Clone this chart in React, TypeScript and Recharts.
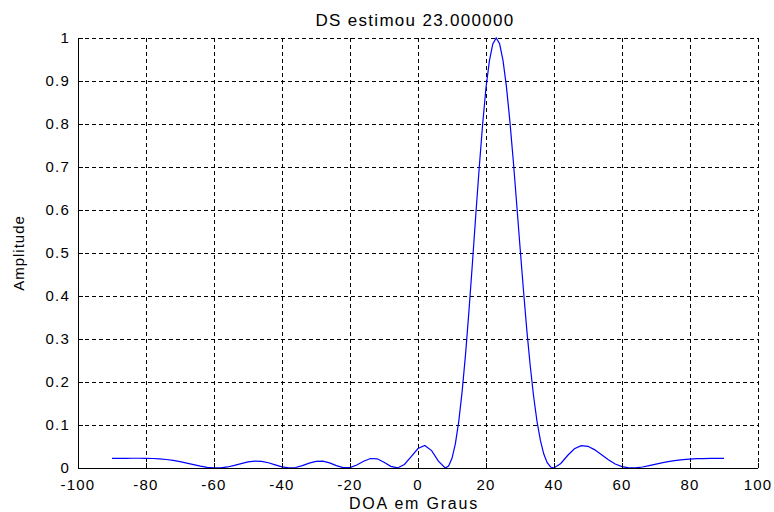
import React from 'react';
import { LineChart, Line, XAxis, YAxis, CartesianGrid } from 'recharts';

// DOA (degrees) sampled coarser on the side lobes, 1 degree across the main lobe
const DOA = [
    -90, -88, -86, -84, -82, -80, -78, -76, -74, -72, -70, -68, -66, -64, -62, -60,
    -58, -56, -54, -52, -50, -48, -46, -44, -42, -40, -38, -36, -34, -32, -30, -28,
    -26, -24, -22, -20, -18, -16, -14, -12, -10, -8, -6, -4, -2, 0, 2, 4, 6,
    8, 9, 10, 11, 12, 13, 14, 15, 16, 17, 18, 19, 20, 21, 22, 23, 24, 25, 26, 27,
    28, 29, 30, 31, 32, 33, 34, 35, 36, 37, 38, 39, 40,
    42, 44, 46, 48, 50, 52, 54, 56, 58, 60, 62, 64, 66, 68, 70, 72, 74, 76, 78,
    80, 82, 84, 86, 88, 90,
];

const AMPLITUDE = [
    0.0225, 0.0225, 0.0226, 0.0227, 0.0227, 0.0226, 0.0221, 0.0213, 0.0198, 0.0177, 0.0149, 0.0115, 0.0079, 0.0044, 0.0016, 0.0001,
    0.0004, 0.0024, 0.006, 0.0103, 0.0141, 0.0161, 0.0155, 0.0123, 0.0074, 0.0026, 0.0001, 0.0011, 0.0055, 0.0112, 0.0155, 0.0158,
    0.0118, 0.0054, 0.0007, 0.0009, 0.0069, 0.0157, 0.0221, 0.0214, 0.0136, 0.0039, 0.0001, 0.0081, 0.0263, 0.0453, 0.0524, 0.0405, 0.016,
    0.0, 0.0046, 0.0225, 0.0568, 0.1089, 0.1793, 0.2661, 0.3665, 0.4757, 0.5888, 0.6978, 0.7982, 0.8845, 0.9466, 0.9863, 1.0, 0.9865, 0.948, 0.8874, 0.8085,
    0.7168, 0.617, 0.5146, 0.4151, 0.3213, 0.2383, 0.1669, 0.1084, 0.064, 0.0325, 0.0125, 0.0024, 0.0001,
    0.0106, 0.0291, 0.0447, 0.0521, 0.0505, 0.0422, 0.0307, 0.019, 0.0094, 0.0032, 0.0003, 0.0003, 0.0023, 0.0055, 0.009, 0.0124, 0.0154, 0.0177, 0.0195,
    0.0207, 0.0216, 0.022, 0.0223, 0.0225, 0.0225,
];

const X_TICKS = [-100, -80, -60, -40, -20, 0, 20, 40, 60, 80, 100];
const Y_TICKS = [0, 0.1, 0.2, 0.3, 0.4, 0.5, 0.6, 0.7, 0.8, 0.9, 1];

const TITLE = 'DS estimou 23.000000';
const X_LABEL = 'DOA em Graus';
const Y_LABEL = 'Amplitude';

const data = DOA.map((deg, i) => ({ deg, amp: AMPLITUDE[i] }));

const FONT = "Arial, 'Liberation Sans', sans-serif";
const tickStyle = { fontSize: 15, fill: '#000', fontFamily: FONT, letterSpacing: 1.2 };

export default function App() {
    return (
        <div style={{ position: 'absolute', left: 0, top: 0, width: 774, height: 512, background: '#fff' }}>
            <LineChart width={774} height={512} data={data} margin={{ top: 38, right: 16, bottom: 14, left: 18 }}>
                <CartesianGrid stroke="#000" strokeDasharray="4 3" horizontal vertical shapeRendering="crispEdges" />
                <XAxis
                    dataKey="deg"
                    type="number"
                    domain={[-100, 100]}
                    ticks={X_TICKS}
                    height={30}
                    tickSize={-5}
                    tickMargin={16}
                    tick={tickStyle}
                    stroke="#000"
                    shapeRendering="crispEdges"
                    allowDataOverflow
                />
                <XAxis xAxisId="top" orientation="top" dataKey="deg" type="number" domain={[-100, 100]} ticks={X_TICKS}
                    height={0} tickSize={-5} tick={false} stroke="#000" shapeRendering="crispEdges" />
                <YAxis
                    domain={[0, 1]}
                    ticks={Y_TICKS}
                    width={60}
                    tickSize={-5}
                    tickMargin={13}
                    tick={tickStyle}
                    stroke="#000"
                    shapeRendering="crispEdges"
                />
                <YAxis yAxisId="right" orientation="right" domain={[0, 1]} ticks={Y_TICKS}
                    width={0} tickSize={-5} tick={false} stroke="#000" shapeRendering="crispEdges" />
                <Line type="linear" dataKey="amp" stroke="#0000ff" strokeWidth={1.2} dot={false} isAnimationActive={false} />
            </LineChart>
            <svg width={774} height={512} style={{ position: 'absolute', left: 0, top: 0, pointerEvents: 'none' }}>
                <text x={415} y={26} textAnchor="middle" fontSize={17} fontFamily={FONT} letterSpacing={1.3} fill="#000">{TITLE}</text>
                <text x={414} y={509} textAnchor="middle" fontSize={16} fontFamily={FONT} letterSpacing={1.8} fill="#000">{X_LABEL}</text>
                <text x={24} y={253} textAnchor="middle" fontSize={15} fontFamily={FONT} letterSpacing={1} fill="#000"
                    transform="rotate(-90 24 253)">{Y_LABEL}</text>
            </svg>
        </div>
    );
}
